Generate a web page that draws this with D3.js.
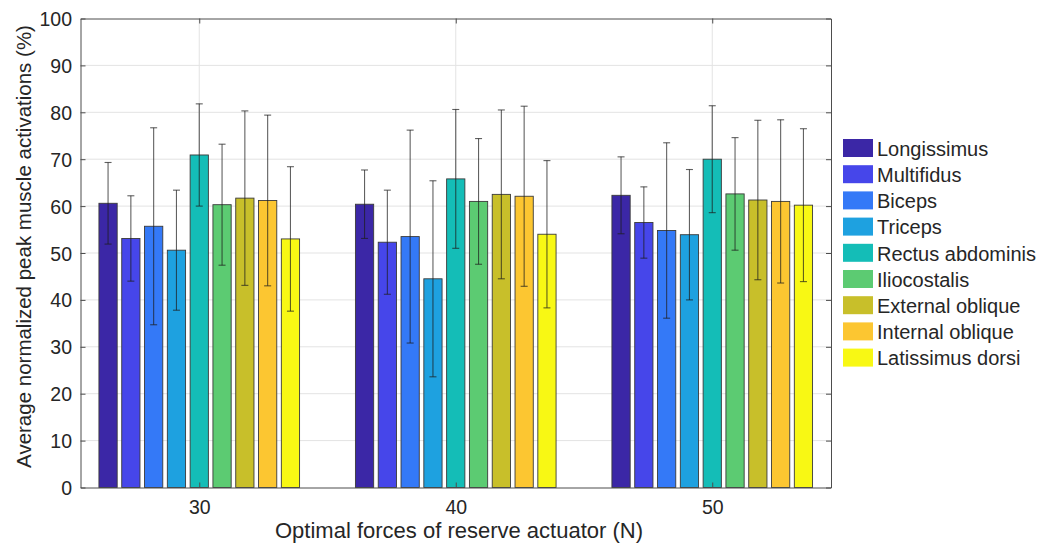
<!DOCTYPE html>
<html><head><meta charset="utf-8">
<script src="https://cdn.jsdelivr.net/npm/d3@7"></script>
<style>body{margin:0;background:#fff}svg{display:block}text{font-family:"Liberation Sans",Arial,sans-serif;fill:#262626}</style>
</head><body><svg id="c" width="1051" height="549"></svg>
<script>
const categories = ["30", "40", "50"];
const muscles = ["Longissimus","Multifidus","Biceps","Triceps","Rectus abdominis","Iliocostalis","External oblique","Internal oblique","Latissimus dorsi"];
const colors = ["#3b27a6","#4646ea","#3479f7","#1ea1e0","#14bdb7","#5ccb72","#c8bf2a","#fcc631","#f8f814"];
const mean30 = [60.6, 53.1, 55.7, 50.6, 70.9, 60.3, 61.7, 61.2, 53.0];
const mean40 = [60.4, 52.3, 53.5, 44.5, 65.8, 61.0, 62.5, 62.1, 54.0];
const mean50 = [62.3, 56.5, 54.8, 53.9, 70.0, 62.6, 61.3, 61.0, 60.2];
const sd30 = [8.7, 9.1, 21.0, 12.8, 10.9, 12.9, 18.6, 18.2, 15.4];
const sd40 = [7.3, 11.1, 22.7, 20.9, 14.8, 13.4, 18.0, 19.2, 15.7];
const sd50 = [8.2, 7.6, 18.7, 13.9, 11.4, 12.0, 17.0, 17.4, 16.3];
const yTicks = [0,10,20,30,40,50,60,70,80,90,100];

const means = [mean30, mean40, mean50];
const sds = [sd30, sd40, sd50];

const svg = d3.select("#c");
const L = 80.5, R = 831, T = 18.5, B = 487.5;
const x = d3.scaleLinear().domain([0.537, 3.463]).range([L, R]);
const y = d3.scaleLinear().domain([0, 100]).range([B, T]);
const groupW = x(1.8) - x(1);
const inner = d3.scaleBand().domain(muscles).range([-groupW/2, groupW/2]).paddingInner(0.2).paddingOuter(0.1);

// grid
svg.append("g").selectAll("line").data(yTicks.slice(1,-1)).join("line")
  .attr("x1", L).attr("x2", R).attr("y1", d=>y(d)).attr("y2", d=>y(d))
  .attr("stroke", "#e3e3e3").attr("stroke-width", 1);
svg.append("g").selectAll("line").data(categories).join("line")
  .attr("x1", (d,i)=>x(i+1)).attr("x2", (d,i)=>x(i+1)).attr("y1", T).attr("y2", B)
  .attr("stroke", "#e3e3e3").attr("stroke-width", 1);

// bars
const data = [];
categories.forEach((c, ci) => muscles.forEach((m, mi) => data.push({ci, mi, m, v: means[ci][mi], s: sds[ci][mi]})));
svg.append("g").selectAll("rect").data(data).join("rect")
  .attr("x", d => x(d.ci+1) + inner(d.m))
  .attr("width", inner.bandwidth())
  .attr("y", d => y(d.v)).attr("height", d => y(0) - y(d.v))
  .attr("fill", d => colors[d.mi]).attr("stroke", "#3a3a3a").attr("stroke-width", 0.9);

// error bars
const eb = svg.append("g").attr("stroke", "rgba(30,30,30,0.7)").attr("stroke-width", 1.1);
data.forEach(d => {
  const cx = x(d.ci+1) + inner(d.m) + inner.bandwidth()/2;
  eb.append("line").attr("x1", cx).attr("x2", cx).attr("y1", y(d.v - d.s)).attr("y2", y(d.v + d.s));
  [d.v - d.s, d.v + d.s].forEach(v => eb.append("line").attr("x1", cx-3.5).attr("x2", cx+3.5).attr("y1", y(v)).attr("y2", y(v)));
});

// axes
const axC = "#4d4d4d";
const yAxis = svg.append("g").attr("transform", `translate(${L},0)`).call(d3.axisLeft(y).tickValues(yTicks).tickSizeInner(-5).tickSizeOuter(0).tickPadding(8.5));
const yAxisR = svg.append("g").attr("transform", `translate(${R},0)`).call(d3.axisRight(y).tickValues(yTicks).tickSizeInner(-5).tickSizeOuter(0).tickFormat(""));
const xAxis = svg.append("g").attr("transform", `translate(0,${B})`).call(d3.axisBottom(x).tickValues([1,2,3]).tickFormat((d,i)=>categories[i]).tickSizeInner(-5).tickSizeOuter(0).tickPadding(13));
const xAxisT = svg.append("g").attr("transform", `translate(0,${T})`).call(d3.axisTop(x).tickValues([1,2,3]).tickSizeInner(-5).tickSizeOuter(0).tickFormat(""));
[yAxis, yAxisR, xAxis, xAxisT].forEach(g => {
  g.select(".domain").attr("stroke", axC);
  g.selectAll(".tick line").attr("stroke", axC);
  g.selectAll("text").attr("font-size", 19.5).attr("fill", "#262626").attr("font-family", '"Liberation Sans",Arial,sans-serif');
});
yAxis.selectAll("text").attr("dy", "0.36em");

// axis labels
svg.append("text").attr("x", 459).attr("y", 538).attr("text-anchor", "middle").attr("font-size", 22)
  .text("Optimal forces of reserve actuator (N)");
svg.append("text").attr("transform", `translate(31,246.5) rotate(-90)`).attr("text-anchor", "middle").attr("font-size", 20.5)
  .text("Average normalized peak muscle activations (%)");

// legend
const lg = svg.append("g").attr("transform", "translate(843,139)");
const row = lg.selectAll("g").data(muscles).join("g").attr("transform", (d,i)=>`translate(0,${i*26.2})`);
row.append("rect").attr("width", 30).attr("height", 18).attr("fill", (d,i)=>colors[i]);
row.append("text").attr("x", 34).attr("y", 9.5).attr("dy", "0.36em").attr("font-size", 20).text(d=>d);
</script></body></html>
